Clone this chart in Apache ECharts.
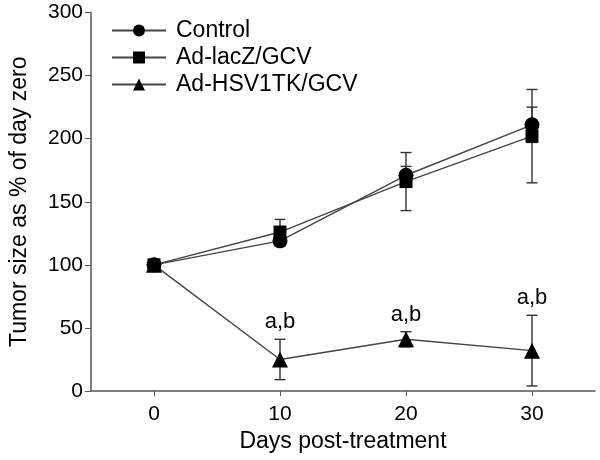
<!DOCTYPE html>
<html lang="en">
<head>
    <meta charset="UTF-8">
    <title>Tumor size</title>
    <script src="https://cdn.jsdelivr.net/npm/echarts@6/dist/echarts.min.js"></script>
    <style>
        html, body { margin: 0; height: 100%; background: #fff; }
        #main { width: 600px; height: 460px; }
    </style>
</head>
<body>
<div id="main"></div>
<script>
    // data
    var days = [0, 10, 20, 30];
    var seriesNames = ['Control', 'Ad-lacZ/GCV', 'Ad-HSV1TK/GCV'];
    var control = [100, 119, 171, 211];
    var controlErr = [3, 4, 7, 14];
    var lacZ = [100, 126, 166, 202];
    var lacZErr = [3, 10, 23, 37];
    var tk = [100, 25, 41, 32];
    var tkErr = [3, 16, 6, 28];
    var noteDays = [10, 20, 30];
    var noteText = ['a,b', 'a,b', 'a,b'];
    var xTicks = [0, 10, 20, 30];

    var font = 'Liberation Sans, Arial, sans-serif';
    var chart = echarts.init(document.getElementById('main'));

    function pairs(vals) {
        return days.map(function (d, i) { return [d, vals[i]]; });
    }

    // error bar rows: [day, low, high]
    function errRows(vals, errs) {
        return days.map(function (d, i) { return [d, vals[i] - errs[i], vals[i] + errs[i]]; });
    }

    function errorBars(vals, errs) {
        return {
            type: 'custom',
            z: 1,
            silent: true,
            data: errRows(vals, errs),
            encode: { x: 0, y: [1, 2] },
            renderItem: function (params, api) {
                var lo = api.coord([api.value(0), api.value(1)]);
                var hi = api.coord([api.value(0), api.value(2)]);
                var w = 5.5;
                var st = { stroke: '#333', lineWidth: 1.4 };
                return {
                    type: 'group',
                    children: [
                        { type: 'line', shape: { x1: lo[0], y1: lo[1], x2: hi[0], y2: hi[1] }, style: st },
                        { type: 'line', shape: { x1: lo[0] - w, y1: lo[1], x2: lo[0] + w, y2: lo[1] }, style: st },
                        { type: 'line', shape: { x1: hi[0] - w, y1: hi[1], x2: hi[0] + w, y2: hi[1] }, style: st }
                    ]
                };
            }
        };
    }

    function lineSeries(name, vals, symbol, size) {
        return {
            name: name,
            type: 'line',
            z: 3,
            data: pairs(vals),
            symbol: symbol,
            symbolSize: size,
            showAllSymbol: true,
            itemStyle: { color: '#000' },
            lineStyle: { color: '#444', width: 1.4 }
        };
    }

    var notes = noteDays.map(function (d, i) {
        var k = days.indexOf(d);
        return [d, tk[k] + tkErr[k], noteText[i]];
    });

    var option = {
        animation: false,
        backgroundColor: '#fff',
        grid: { left: 85, right: 5, top: 12.5, bottom: 69 },
        legend: {
            data: seriesNames,
            orient: 'vertical',
            left: 106,
            top: 14,
            itemWidth: 54,
            itemHeight: 15,
            itemGap: 4,
            textStyle: { fontFamily: font, fontSize: 23, color: '#000', padding: [0, 0, 0, 5] }
        },
        xAxis: {
            type: 'value',
            min: -5,
            max: 35,
            name: 'Days post-treatment',
            nameLocation: 'middle',
            nameGap: 36,
            nameTextStyle: { fontFamily: font, fontSize: 23, color: '#000' },
            splitLine: { show: false },
            axisLine: { onZero: false, lineStyle: { color: '#555', width: 1.5 } },
            axisTick: { customValues: xTicks, length: 5, lineStyle: { color: '#555' } },
            axisLabel: { customValues: xTicks, margin: 13, fontFamily: font, fontSize: 21, color: '#000' }
        },
        yAxis: {
            type: 'value',
            min: 0,
            max: 300,
            interval: 50,
            name: 'Tumor size as % of day zero',
            nameLocation: 'middle',
            nameGap: 60,
            nameTextStyle: { fontFamily: font, fontSize: 23, color: '#000' },
            splitLine: { show: false },
            axisLine: { show: true, onZero: false, lineStyle: { color: '#555', width: 1.5 } },
            axisTick: { show: true, length: 6, lineStyle: { color: '#555' } },
            axisLabel: { margin: 8, fontFamily: font, fontSize: 21, color: '#000' }
        },
        series: [
            errorBars(control, controlErr),
            errorBars(lacZ, lacZErr),
            errorBars(tk, tkErr),
            lineSeries(seriesNames[0], control, 'circle', 15),
            lineSeries(seriesNames[1], lacZ, 'rect', 13),
            lineSeries(seriesNames[2], tk, 'triangle', 16),
            {
                type: 'custom',
                silent: true,
                z: 4,
                data: notes,
                encode: { x: 0, y: 1 },
                renderItem: function (params, api) {
                    var p = api.coord([api.value(0), api.value(1)]);
                    return {
                        type: 'text',
                        x: p[0],
                        y: p[1] - 17,
                        style: {
                            text: notes[params.dataIndex][2],
                            fontFamily: font,
                            fontSize: 22,
                            fill: '#000',
                            align: 'center',
                            verticalAlign: 'middle'
                        }
                    };
                }
            }
        ]
    };

    chart.setOption(option);
</script>
</body>
</html>
